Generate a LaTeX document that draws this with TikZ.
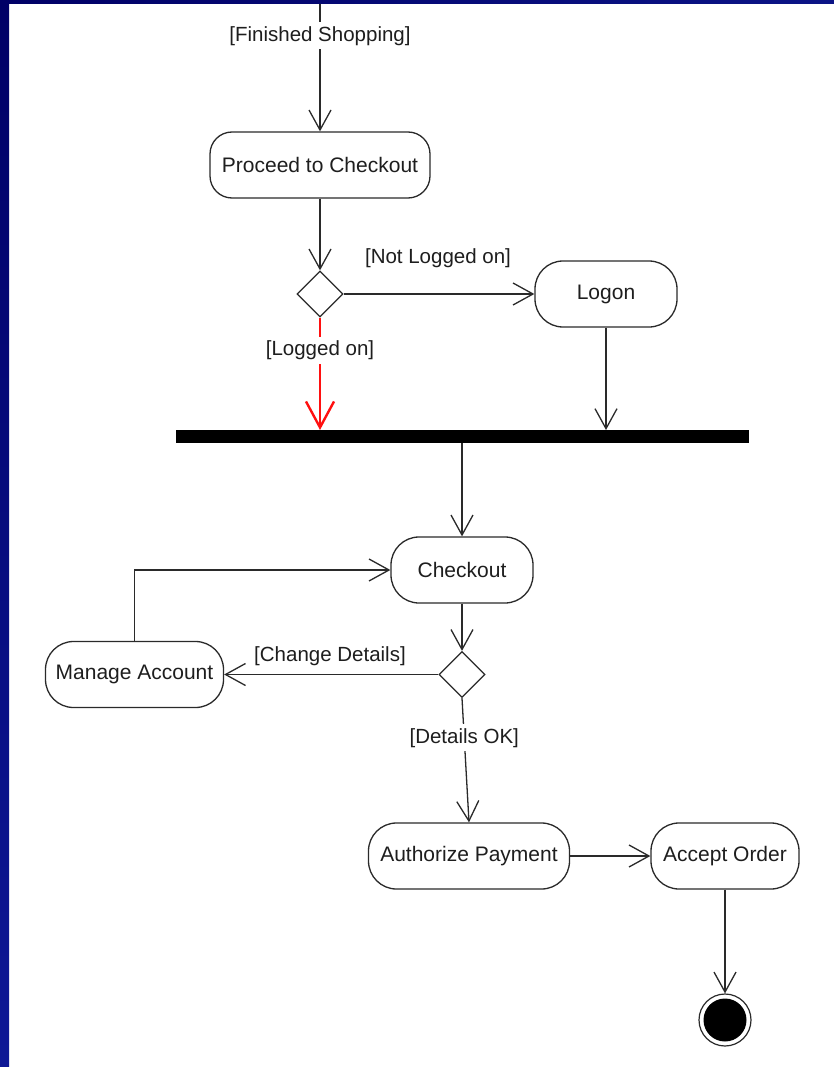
\documentclass[tikz,border=0pt]{standalone}
\usepackage{fontspec}
\setmainfont{Liberation Sans}
\usetikzlibrary{arrows.meta,shapes.geometric}
\definecolor{navytop}{HTML}{000066}
\definecolor{navybot}{HTML}{0E1896}
\definecolor{navyright}{HTML}{0B1486}
\definecolor{linec}{HTML}{2A2A2A}
\definecolor{textc}{HTML}{1E1E1E}
\definecolor{guardred}{HTML}{FF1010}
\tikzset{
  activity/.style={draw=linec, line width=1.3pt, fill=white, rectangle,
    rounded corners=28pt, minimum height=66pt, inner sep=0pt,
    text=textc, font=\fontsize{21}{25}\selectfont},
  decision/.style={draw=linec, line width=1.3pt, fill=white, diamond,
    aspect=1, minimum width=46pt, minimum height=46pt, inner sep=0pt},
  flow/.style={draw=linec, line width=1.3pt,
    -{Straight Barb[length=20pt,width=22pt,line width=1.3pt]}},
  redflow/.style={draw=guardred, line width=2.4pt,
    -{Straight Barb[length=26pt,width=28pt,line width=2.4pt]}},
  guard/.style={text=textc, font=\fontsize{20.5}{24}\selectfont, inner sep=2pt},
  guardcut/.style={guard, fill=white, inner sep=4pt},
}
\begin{document}
\begin{tikzpicture}[x=1pt,y=-1pt]
  % slide background with its navy frame
  \useasboundingbox (0,0) rectangle (834,1067);
  \fill[white] (0,0) rectangle (834,1067);
  \shade[top color=navytop, bottom color=navybot] (0,0) rectangle (9,1067);
  \shade[left color=navytop, right color=navyright] (0,0) rectangle (834,4);

  % activities
  \node[activity, minimum width=220pt, rounded corners=22pt] (proceed) at (320,165) {Proceed to Checkout};
  \node[decision] (login) at (320,294) {};
  \node[activity, minimum width=142pt] (logon) at (606,294) {Logon};
  \fill[black] (176,430) rectangle (749,443);
  \coordinate (barN) at (462,430);
  \coordinate (barS) at (462,443);
  \node[activity, minimum width=142pt] (checkout) at (462,570) {Checkout};
  \node[decision] (details) at (462,674.5) {};
  \node[activity, minimum width=178pt] (manage) at (134.5,674.5) {Manage Account};
  \node[activity, minimum width=201pt] (authorize) at (469,856) {Authorize Payment};
  \node[activity, minimum width=148pt] (accept) at (725,856) {Accept Order};
  \node[circle, draw=linec, line width=1.2pt, fill=white, minimum size=52pt, inner sep=0pt,
        path picture={\fill[black] (path picture bounding box.center) circle (21.5);}]
        (final) at (725,1020) {};

  % flows
  \coordinate (start) at (320,4);
  \draw[flow] (start) -- node[guardcut, pos=0.25] {[Finished Shopping]} (proceed.north);
  \draw[flow] (proceed.south) -- (login.north);
  \draw[flow] (login.east) -- (logon.west);
  \node[guard] (notlogged) at (438,258) {[Not Logged on]};
  \draw[redflow] (login.south) -- node[guardcut, pos=0.29] {[Logged on]} (login.south |- barN);
  \draw[flow] (logon.south) -- (logon.south |- barN);
  \draw[flow] (barS) -- (checkout.north);
  \draw[flow] (checkout.south) -- (details.north);
  \draw[flow] (details.west) -- (manage.east);
  \node[guard] (change) at (330,656) {[Change Details]};
  \draw[flow] (manage.north) |- (checkout.west);
  \draw[flow] (details.south) -- node[guardcut, pos=0.32] {[Details OK]} (authorize.north);
  \draw[flow] (authorize.east) -- (accept.west);
  \draw[flow] (accept.south) -- (final.north);
\end{tikzpicture}
\end{document}
